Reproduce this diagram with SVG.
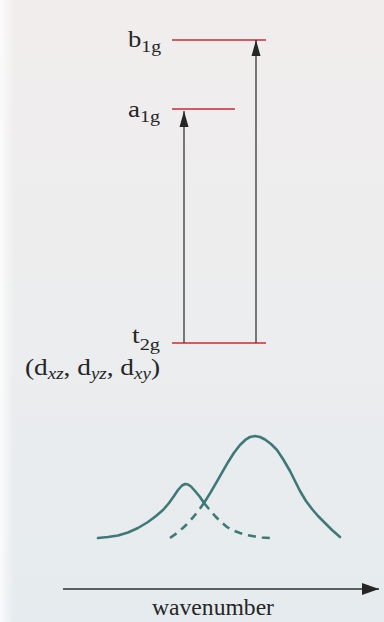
<svg xmlns="http://www.w3.org/2000/svg" width="384" height="622" viewBox="0 0 384 622">
  <defs>
    <linearGradient id="bg" x1="0" y1="0" x2="0" y2="1">
      <stop offset="0" stop-color="#f1eded"/>
      <stop offset="0.5" stop-color="#ecedee"/>
      <stop offset="1" stop-color="#e5ebee"/>
    </linearGradient>
    <linearGradient id="edge" x1="0" y1="0" x2="1" y2="0">
      <stop offset="0" stop-color="#ffffff" stop-opacity="0.8"/>
      <stop offset="1" stop-color="#ffffff" stop-opacity="0"/>
    </linearGradient>
    <marker id="ah" viewBox="0 0 16 10" refX="16" refY="5" markerWidth="16" markerHeight="10" markerUnits="userSpaceOnUse" orient="auto">
      <path d="M0,0.5 L16,5 L0,9.5 Z" fill="#262626"/>
    </marker>
    <marker id="axh" viewBox="0 0 17 12" refX="17" refY="6" markerWidth="17" markerHeight="12" markerUnits="userSpaceOnUse" orient="auto">
      <path d="M0,0 L17,6 L0,12 Z" fill="#262626"/>
    </marker>
  </defs>
  <style>
    .lbl { font-family: "Liberation Serif", "Times New Roman", serif; font-size: 23px; fill: #262626; }
    .sub { font-size: 17px; }
    .isub { font-size: 16px; font-style: italic; }
    .level { stroke: #d65a62; stroke-width: 2; fill: none; }
    .trans { stroke: #444444; stroke-width: 1.4; fill: none; marker-end: url(#ah); }
    .curve { stroke: #3e7977; stroke-width: 2.6; fill: none; stroke-linejoin: round; stroke-linecap: round; }
    .dash { stroke-dasharray: 8 6; stroke-linecap: butt; }
    .axis { stroke: #5a6062; stroke-width: 2; fill: none; marker-end: url(#axh); }
  </style>

  <rect x="0" y="0" width="384" height="622" fill="url(#bg)"/>
  <rect x="0" y="0" width="14" height="622" fill="url(#edge)"/>

  <g id="level-b1g">
    <line class="level" x1="172" y1="40" x2="266" y2="40"/>
    <text class="lbl" x="128" y="47" textLength="33" lengthAdjust="spacingAndGlyphs">b<tspan class="sub" dy="5">1g</tspan></text>
  </g>

  <g id="level-a1g">
    <line class="level" x1="172" y1="109" x2="235" y2="109"/>
    <text class="lbl" x="128" y="117" textLength="32" lengthAdjust="spacingAndGlyphs">a<tspan class="sub" dy="5">1g</tspan></text>
  </g>

  <g id="level-t2g">
    <line class="level" x1="172" y1="343" x2="266" y2="343"/>
    <text class="lbl" x="132" y="343" textLength="28" lengthAdjust="spacingAndGlyphs">t<tspan class="sub" dy="7">2g</tspan></text>
    <text class="lbl" x="25" y="375" textLength="135" lengthAdjust="spacingAndGlyphs">(d<tspan class="isub" dy="4">xz</tspan><tspan dy="-4">, d</tspan><tspan class="isub" dy="4">yz</tspan><tspan dy="-4">, d</tspan><tspan class="isub" dy="4">xy</tspan><tspan dy="-4">)</tspan></text>
  </g>

  <g id="connectors">
    <line class="trans" x1="184" y1="343" x2="184" y2="111"/>
    <line class="trans" x1="256" y1="343" x2="256" y2="40"/>
  </g>

  <g id="spectrum">
    <polyline class="curve" points="98,538 108,537 118,535.5 128,532.5 138,528 148,522 156,516 163,510 169,503 174,496 178,490 182,485.5 185,484 188,484.5 191,486.5 195,491 200,497 204,503 210,493.4 216,483.2 222,472.6 228,462.2 234,452.8 240,445 246,439.3 250,437 255,436 260,437 265,439.5 271,444 277,450 283,459 290,471 295,481 300,491 306,501 312,509 318,516 324,522 332,530 340,537"/>
    <polyline class="curve dash" points="170,538 177,533 184,527 190,521 195,515 200,508.5 204,503"/>
    <polyline class="curve dash" points="204,503 209,509 215,516 221,522 227,527 233,530.5 240,533 247,535 255,536.5 262,537.5 270,538"/>
  </g>

  <g id="axis">
    <line class="axis" x1="63" y1="589" x2="379" y2="589"/>
    <text class="lbl" x="152" y="615" textLength="122" lengthAdjust="spacingAndGlyphs">wavenumber</text>
  </g>
</svg>
